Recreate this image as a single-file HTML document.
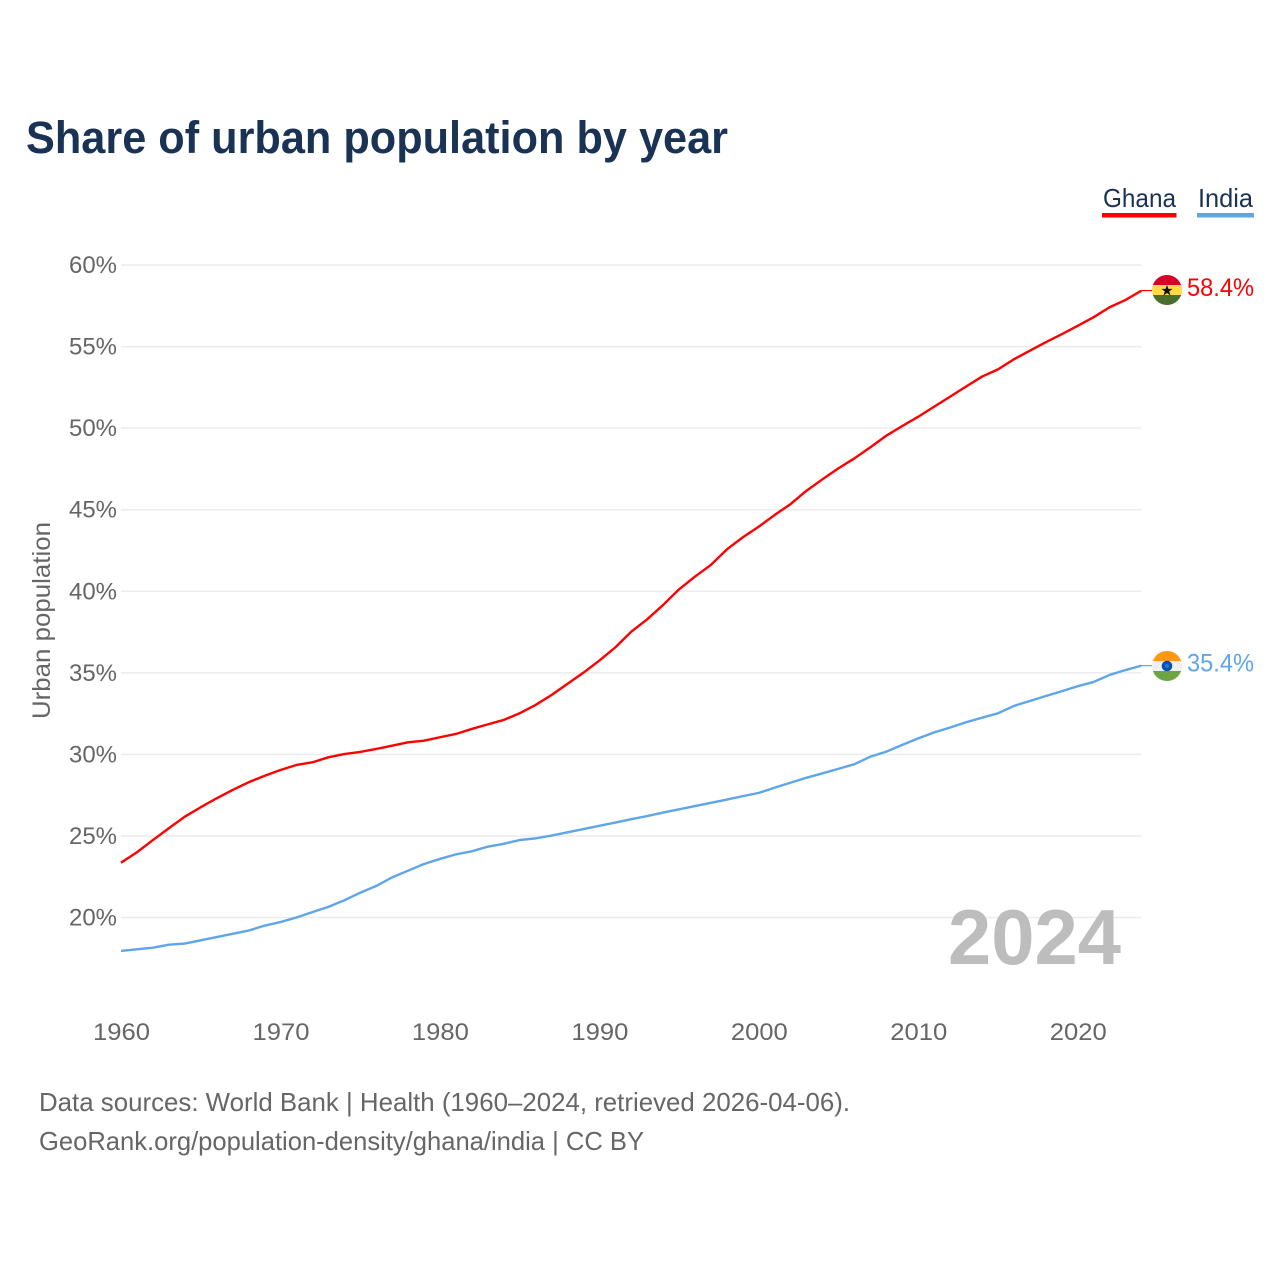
<!DOCTYPE html>
<html lang="en">
<head>
<meta charset="utf-8">
<title>Share of urban population by year</title>
<style>
html,body{margin:0;padding:0;background:#fff;}
svg{display:block;font-family:"Liberation Sans",sans-serif;}
</style>
</head>
<body>
<svg id="chart" width="1280" height="1280" viewBox="0 0 1280 1280" xmlns="http://www.w3.org/2000/svg">
  <defs>
    <clipPath id="clip-ghana"><circle cx="1167" cy="290" r="15"/></clipPath>
    <clipPath id="clip-india"><circle cx="1167" cy="666" r="15"/></clipPath>
  </defs>
  <rect width="1280" height="1280" fill="#fff"/>
  <text x="26" y="153" font-size="45" font-weight="700" fill="#1a3354" textLength="702" lengthAdjust="spacingAndGlyphs">Share of urban population by year</text>

  <g>
    <text x="1103" y="207" font-size="26" fill="#1a3354" textLength="73" lengthAdjust="spacingAndGlyphs">Ghana</text>
    <rect x="1102" y="213" width="74.5" height="4.5" fill="#ff0000"/>
    <text x="1198" y="207" font-size="26" fill="#1a3354" textLength="55" lengthAdjust="spacingAndGlyphs">India</text>
    <rect x="1197" y="213" width="57" height="4.5" fill="#5fa5ea"/>
  </g>

  <g id="grid"></g>
  <g id="y-ticks"></g>
  <g id="x-ticks"></g>
  <text transform="translate(50,620.5) rotate(-90)" text-anchor="middle" font-size="25" fill="#666666" textLength="197" lengthAdjust="spacingAndGlyphs">Urban population</text>

  <text x="948" y="964" font-size="78" font-weight="700" fill="#bdbdbd" textLength="173" lengthAdjust="spacingAndGlyphs">2024</text>

  <path id="line-ghana" fill="none" stroke="#ff0000" stroke-width="2.4" stroke-linejoin="round"/>
  <path id="line-india" fill="none" stroke="#5fa5ea" stroke-width="2.4" stroke-linejoin="round"/>
  <line id="stub-ghana" x1="1141.5" x2="1152" stroke="#ff0000" stroke-width="1.2"/>
  <line id="stub-india" x1="1141.5" x2="1152" stroke="#5fa5ea" stroke-width="1.2"/>

  <g id="end-ghana">
    <g id="flag-ghana">
      <g clip-path="url(#clip-ghana)">
        <rect x="1152" y="275" width="30" height="10" fill="#d80027"/>
        <rect x="1152" y="285" width="30" height="10" fill="#ffda44"/>
        <rect x="1152" y="295" width="30" height="10" fill="#496e2d"/>
        <polygon points="1167,284.8 1168.4,288.9 1172.6,288.9 1169.2,291.4 1170.5,295.5 1167,293 1163.5,295.5 1164.8,291.4 1161.4,288.9 1165.6,288.9" fill="#111"/>
      </g>
    </g>
    <text id="value-ghana" x="1187" y="296" font-size="25" fill="#ff0000" textLength="67" lengthAdjust="spacingAndGlyphs"></text>
  </g>
  <g id="end-india">
    <g id="flag-india">
      <g clip-path="url(#clip-india)">
        <rect x="1152" y="651" width="30" height="10" fill="#ff9811"/>
        <rect x="1152" y="661" width="30" height="10" fill="#f0f0f0"/>
        <rect x="1152" y="671" width="30" height="10" fill="#6da544"/>
        <circle cx="1167" cy="666" r="5.3" fill="#0052b4"/>
        <circle cx="1167" cy="666" r="2.2" fill="#2f6fc4"/>
      </g>
    </g>
    <text id="value-india" x="1187" y="671.5" font-size="25" fill="#5fa5ea" textLength="67" lengthAdjust="spacingAndGlyphs"></text>
  </g>

  <g>
    <text x="39" y="1111" font-size="26" fill="#666666" textLength="811" lengthAdjust="spacingAndGlyphs">Data sources: World Bank | Health (1960–2024, retrieved 2026-04-06).</text>
    <text x="39" y="1150" font-size="26" fill="#666666" textLength="605" lengthAdjust="spacingAndGlyphs">GeoRank.org/population-density/ghana/india | CC BY</text>
  </g>
</svg>
<script>
const years = [1960,1961,1962,1963,1964,1965,1966,1967,1968,1969,1970,1971,1972,1973,1974,1975,1976,1977,1978,1979,1980,1981,1982,1983,1984,1985,1986,1987,1988,1989,1990,1991,1992,1993,1994,1995,1996,1997,1998,1999,2000,2001,2002,2003,2004,2005,2006,2007,2008,2009,2010,2011,2012,2013,2014,2015,2016,2017,2018,2019,2020,2021,2022,2023,2024];
const ghana = [23.36,24.0,24.75,25.47,26.18,26.76,27.31,27.82,28.29,28.68,29.04,29.35,29.51,29.82,30.02,30.15,30.33,30.53,30.74,30.84,31.05,31.25,31.56,31.84,32.11,32.52,33.03,33.64,34.32,35.01,35.75,36.56,37.52,38.28,39.16,40.12,40.9,41.62,42.57,43.31,43.96,44.68,45.35,46.17,46.87,47.54,48.15,48.83,49.54,50.13,50.7,51.32,51.93,52.55,53.16,53.6,54.22,54.75,55.27,55.76,56.27,56.8,57.41,57.86,58.43];
const india = [17.95,18.05,18.15,18.33,18.4,18.6,18.8,19.0,19.2,19.5,19.72,20.0,20.33,20.65,21.05,21.52,21.93,22.46,22.87,23.28,23.59,23.87,24.06,24.34,24.52,24.75,24.85,25.02,25.22,25.42,25.62,25.82,26.03,26.22,26.43,26.63,26.83,27.03,27.23,27.44,27.64,27.96,28.27,28.57,28.84,29.12,29.4,29.86,30.17,30.58,30.98,31.35,31.65,31.97,32.25,32.52,32.97,33.27,33.58,33.87,34.18,34.44,34.87,35.17,35.44];
const yTickValues = [20,25,30,35,40,45,50,55,60];
const xTickValues = [1960,1970,1980,1990,2000,2010,2020];

const NS = 'http://www.w3.org/2000/svg';
const xScale = function (year) { return 121 + (year - 1960) * (1020.5 / 64); };
const yScale = function (pct) { return 917.5 - (pct - 20) * (652.5 / 40); };

const gridGroup = document.getElementById('grid');
const yTickGroup = document.getElementById('y-ticks');
const xTickGroup = document.getElementById('x-ticks');

yTickValues.forEach(function (v) {
  const line = document.createElementNS(NS, 'line');
  
  
  line.setAttribute('x1', 121);
  line.setAttribute('x2', 1141.5);
  line.setAttribute('y1', yScale(v));
  line.setAttribute('y2', yScale(v));
  line.setAttribute('stroke', '#ececec');
  line.setAttribute('stroke-width', '1.5');
  gridGroup.appendChild(line);

  const label = document.createElementNS(NS, 'text');
  
  
  label.setAttribute('x', 69);
  label.setAttribute('y', yScale(v) + 8);
  label.setAttribute('font-size', '24');
  label.setAttribute('fill', '#666666');
  label.setAttribute('textLength', '48');
  label.setAttribute('lengthAdjust', 'spacingAndGlyphs');
  label.textContent = v + '%';
  yTickGroup.appendChild(label);
});

xTickValues.forEach(function (v) {
  const label = document.createElementNS(NS, 'text');
  
  
  label.setAttribute('x', xScale(v) - 28);
  label.setAttribute('y', 1040);
  label.setAttribute('font-size', '24');
  label.setAttribute('fill', '#666666');
  label.setAttribute('textLength', '57');
  label.setAttribute('lengthAdjust', 'spacingAndGlyphs');
  label.textContent = v;
  xTickGroup.appendChild(label);
});

function buildPath(values) {
  let d = '';
  values.forEach(function (v, i) {
    d += (i === 0 ? 'M' : 'L') + xScale(years[i]).toFixed(2) + ' ' + yScale(v).toFixed(2) + ' ';
  });
  return d;
}

function setStub(id, values) {
  const stub = document.getElementById(id);
  const lastY = yScale(values[values.length - 1]).toFixed(2);
  stub.setAttribute('y1', lastY);
  stub.setAttribute('y2', lastY);
}

document.getElementById('line-ghana').setAttribute('d', buildPath(ghana));
document.getElementById('line-india').setAttribute('d', buildPath(india));
setStub('stub-ghana', ghana);
setStub('stub-india', india);
document.getElementById('value-ghana').textContent = ghana[ghana.length - 1].toFixed(1) + '%';
document.getElementById('value-india').textContent = india[india.length - 1].toFixed(1) + '%';
</script>
</body>
</html>
